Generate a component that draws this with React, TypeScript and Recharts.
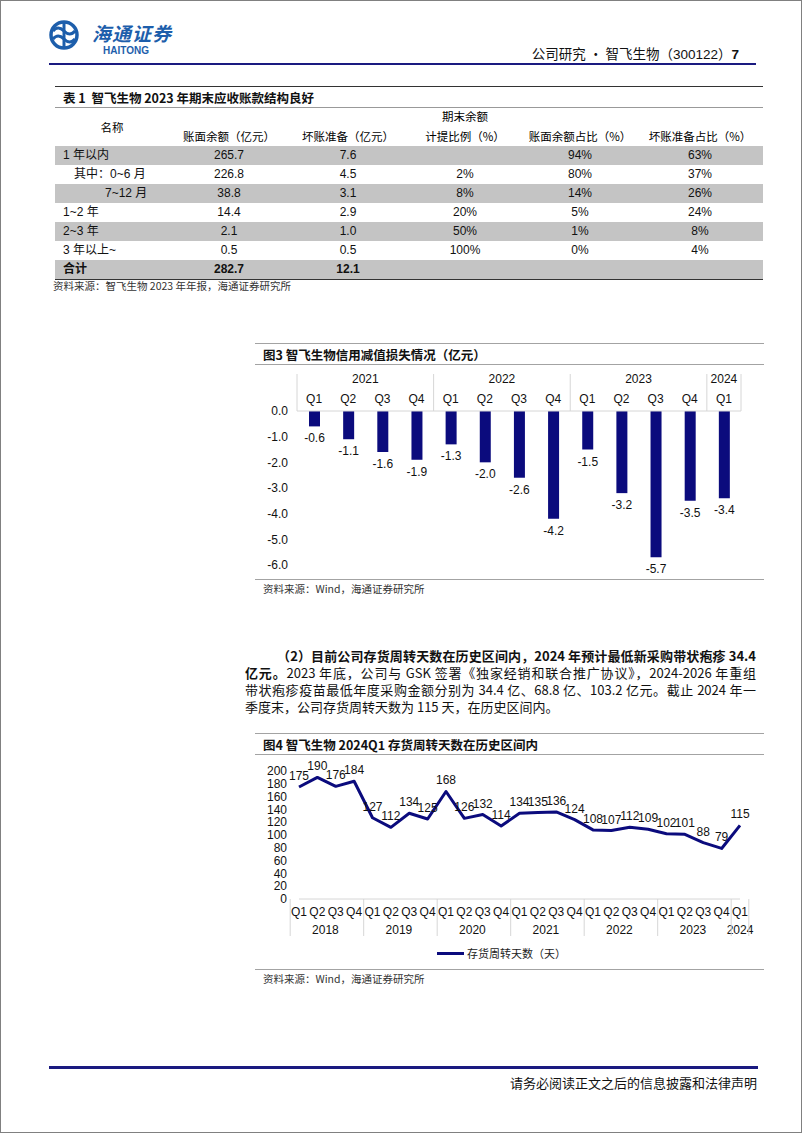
import React from 'react';
import {
  BarChart,
  Bar,
  LineChart,
  Line,
  XAxis,
  YAxis,
  LabelList,
  Legend,
} from 'recharts';

// ---- table 1 ----
const tableHeads = ['账面余额（亿元）', '坏账准备（亿元）', '计提比例（%）', '账面余额占比（%）', '坏账准备占比（%）'];
const rowNames = ['1 年以内', '其中：0~6 月', '7~12 月', '1~2 年', '2~3 年', '3 年以上~', '合计'];
const bookBalance = ['265.7', '226.8', '38.8', '14.4', '2.1', '0.5', '282.7'];
const badDebt = ['7.6', '4.5', '3.1', '2.9', '1.0', '0.5', '12.1'];
const provisionRate = ['', '2%', '8%', '20%', '50%', '100%', ''];
const balanceShare = ['94%', '80%', '14%', '5%', '1%', '0%', ''];
const badDebtShare = ['63%', '37%', '26%', '24%', '8%', '4%', ''];

// ---- chart 3: credit impairment (亿元) ----
const lossYears = ['2021', '2021', '2021', '2021', '2022', '2022', '2022', '2022', '2023', '2023', '2023', '2023', '2024'];
const lossQuarters = ['Q1', 'Q2', 'Q3', 'Q4', 'Q1', 'Q2', 'Q3', 'Q4', 'Q1', 'Q2', 'Q3', 'Q4', 'Q1'];
const creditLoss = [-0.6, -1.1, -1.6, -1.9, -1.3, -2.0, -2.6, -4.2, -1.5, -3.2, -5.7, -3.5, -3.4];
const lossTicks = [0, -1, -2, -3, -4, -5, -6];

// ---- chart 4: inventory turnover days ----
const invYears = [
  '2018', '2018', '2018', '2018', '2019', '2019', '2019', '2019', '2020', '2020', '2020', '2020',
  '2021', '2021', '2021', '2021', '2022', '2022', '2022', '2022', '2023', '2023', '2023', '2023', '2024',
];
const invQuarters = [
  'Q1', 'Q2', 'Q3', 'Q4', 'Q1', 'Q2', 'Q3', 'Q4', 'Q1', 'Q2', 'Q3', 'Q4',
  'Q1', 'Q2', 'Q3', 'Q4', 'Q1', 'Q2', 'Q3', 'Q4', 'Q1', 'Q2', 'Q3', 'Q4', 'Q1',
];
const turnoverDays = [175, 190, 176, 184, 127, 112, 134, 125, 168, 126, 132, 114, 134, 135, 136, 124, 108, 107, 112, 109, 102, 101, 88, 79, 115];
const dayTicks = [0, 20, 40, 60, 80, 100, 120, 140, 160, 180, 200];

const NAVY = '#0b0b7d';
const FONT = "'Liberation Sans', Arial, 'Noto Sans CJK SC', sans-serif";
const CJK = "'Noto Sans CJK SC', 'Liberation Sans', sans-serif";

const lossData = creditLoss.map((v, i) => ({ key: lossYears[i] + lossQuarters[i], v }));
const invData = turnoverDays.map((v, i) => ({ key: invYears[i] + invQuarters[i], v }));

// quarter + year group tick (works for top and bottom axes)
function GroupTick(props: any) {
  const { x, y, payload, years, quarters, band, side } = props;
  const i = payload.index;
  const yr = years[i];
  const first = i === 0 || years[i - 1] !== yr;
  const last = i === years.length - 1;
  let start = i;
  while (start > 0 && years[start - 1] === yr) start--;
  let end = i;
  while (end < years.length - 1 && years[end + 1] === yr) end++;
  const mid = x + ((start + end) / 2 - i) * band;
  const s = side === 'top' ? -1 : 1;
  const qY = side === 'top' ? y - 8 : y + 17;
  const yrY = side === 'top' ? y - 28 : y + 35;
  return (
    <g>
      <text x={x} y={qY} textAnchor="middle" fontSize={12} fill="#111" fontFamily={FONT}>
        {quarters[i]}
      </text>
      {i === start && (
        <text x={mid} y={yrY} textAnchor="middle" fontSize={12} fill="#111" fontFamily={FONT}>
          {yr}
        </text>
      )}
      {first && <line x1={x - band / 2} x2={x - band / 2} y1={y} y2={y + s * 37} stroke="#d6d6d6" />}
      {last && <line x1={x + band / 2} x2={x + band / 2} y1={y} y2={y + s * 37} stroke="#d6d6d6" />}
    </g>
  );
}

function LossLabel(props: any) {
  const { x, y, width, height, value } = props;
  const end = Math.max(y, y + height);
  return (
    <text x={x + width / 2} y={end + 16} textAnchor="middle" fontSize={12} fill="#111" fontFamily={FONT}>
      {Number(value).toFixed(1)}
    </text>
  );
}

function InvLegend() {
  return (
    <div style={{ display: 'flex', alignItems: 'center', justifyContent: 'center', height: 18 }}>
      <span style={{ display: 'inline-block', width: 27, height: 3, background: NAVY, marginRight: 3 }} />
      <span style={{ fontFamily: CJK, fontSize: 11, color: '#222' }}>存货周转天数（天）</span>
    </div>
  );
}

function Logo() {
  return (
    <svg width={40} height={32} style={{ position: 'absolute', left: 44, top: 18 }}>
      <circle cx={19} cy={16} r={13} fill="none" stroke="#1d5eab" strokeWidth={3.5} />
      <path d="M8 12 Q13 6 19 12 Q25 18 30 12" fill="none" stroke="#1d5eab" strokeWidth={3} />
      <path d="M8 20 Q13 14 19 20 Q25 26 30 20" fill="none" stroke="#1d5eab" strokeWidth={3} />
      <line x1={19} y1={4} x2={19} y2={28} stroke="#1d5eab" strokeWidth={3} />
    </svg>
  );
}

const abs = (l: number, t: number, extra: React.CSSProperties = {}): React.CSSProperties => ({
  position: 'absolute',
  left: l,
  top: t,
  ...extra,
});

const colCenters = [228, 347, 464, 579, 699];
const colWidth = 118;

function Table1() {
  const rowTop = 144.5;
  const rowH = 19.1;
  const cols = [bookBalance, badDebt, provisionRate, balanceShare, badDebtShare];
  const nameLeft = [62, 73, 104, 62, 62, 62, 62];
  return (
    <>
      <div style={abs(54, 85, { width: 708, height: 0, borderTop: '1.5px solid #333' })} />
      <div style={abs(62, 88, { fontFamily: CJK, fontWeight: 700, fontSize: 12.5, lineHeight: '17px', color: '#111' })}>
        表 1&nbsp;&nbsp;智飞生物 2023 年期末应收账款结构良好
      </div>
      <div style={abs(54, 106, { width: 708, height: 0, borderTop: '1px solid #999' })} />
      <div style={abs(91, 118, { width: 40, textAlign: 'center', fontFamily: CJK, fontSize: 11.5, lineHeight: '16px' })}>名称</div>
      <div style={abs(464 - colWidth / 2, 107, { width: colWidth, textAlign: 'center', fontFamily: CJK, fontSize: 11.5, lineHeight: '16px' })}>
        期末余额
      </div>
      {tableHeads.map((h, k) => (
        <div
          key={h}
          style={abs(colCenters[k] - colWidth / 2 - 4, 127, {
            width: colWidth + 8,
            textAlign: 'center',
            fontFamily: CJK,
            fontSize: 11.5,
            lineHeight: '16px',
          })}
        >
          {h}
        </div>
      ))}
      {rowNames.map((name, r) => {
        const top = rowTop + r * rowH;
        const bold = r === rowNames.length - 1;
        return (
          <React.Fragment key={name}>
            {r % 2 === 0 && <div style={abs(54, top, { width: 708, height: rowH, background: '#c4c4c4' })} />}
            <div
              style={abs(nameLeft[r], top, {
                fontFamily: FONT,
                fontSize: 12,
                lineHeight: rowH + 'px',
                fontWeight: bold ? 700 : 400,
                color: '#111',
              })}
            >
              {name}
            </div>
            {cols.map((c, k) => (
              <div
                key={k}
                style={abs(colCenters[k] - colWidth / 2, top, {
                  width: colWidth,
                  textAlign: 'center',
                  fontFamily: FONT,
                  fontSize: 12,
                  lineHeight: rowH + 'px',
                  fontWeight: bold ? 700 : 400,
                  color: '#111',
                })}
              >
                {c[r]}
              </div>
            ))}
          </React.Fragment>
        );
      })}
      <div style={abs(54, 278, { width: 708, height: 0, borderTop: '1.5px solid #333' })} />
      <div style={abs(52, 278, { fontFamily: CJK, fontSize: 10.5, lineHeight: '14px', color: '#333' })}>
        资料来源：智飞生物 2023 年年报，海通证券研究所
      </div>
    </>
  );
}

function ChartFrame({ top, title, bottom }: { top: number; title: string; bottom: number }) {
  return (
    <>
      <div style={abs(254, top, { width: 509, height: 0, borderTop: '1.5px solid #a3a3a3' })} />
      <div style={abs(262, top + 3, { fontFamily: CJK, fontWeight: 700, fontSize: 12.5, lineHeight: '17px', color: '#111' })}>
        {title}
      </div>
      <div style={abs(254, top + 21, { width: 509, height: 0, borderTop: '1px solid #a3a3a3' })} />
      <div style={abs(254, bottom, { width: 509, height: 0, borderTop: '1.5px solid #a3a3a3' })} />
      <div style={abs(262, bottom + 3, { fontFamily: CJK, fontSize: 10.5, lineHeight: '14px', color: '#333' })}>
        资料来源：Wind，海通证券研究所
      </div>
    </>
  );
}

const paraLine: React.CSSProperties = {
  position: 'absolute',
  left: 244,
  width: 511,
  fontFamily: CJK,
  fontSize: 13,
  lineHeight: '17px',
  color: '#111',
  textAlign: 'justify',
  textAlignLast: 'justify',
  whiteSpace: 'nowrap',
};

export default function App() {
  const lossBand = 444 / lossData.length;
  const invBand = 441 / invData.length;
  return (
    <div
      style={{
        position: 'absolute',
        left: 0,
        top: 0,
        width: 802,
        height: 1133,
        border: '1px solid #808080',
        boxSizing: 'border-box',
        background: '#fff',
        overflow: 'hidden',
      }}
    >
      {/* header */}
      <Logo />
      <div style={abs(91, 20, { fontFamily: CJK, fontStyle: 'italic', fontWeight: 700, fontSize: 19, color: '#1d5eab', letterSpacing: 1, lineHeight: '24px' })}>
        海通证券
      </div>
      <div style={abs(102, 44, { fontFamily: FONT, fontWeight: 700, fontSize: 10, color: '#1d5eab', lineHeight: '11px' })}>HAITONG</div>
      <div style={abs(500, 43, { width: 238, textAlign: 'right', fontFamily: CJK, fontSize: 13.5, lineHeight: '18px', color: '#111' })}>
        公司研究 · 智飞生物（<span style={{ fontFamily: FONT }}>300122</span>）<b style={{ fontFamily: FONT }}>7</b>
      </div>
      <div style={abs(48, 62, { width: 707, height: 2, background: '#1a1a80' })} />

      <Table1 />

      {/* chart 3 */}
      <ChartFrame top={342} title="图3  智飞生物信用减值损失情况（亿元）" bottom={578} />
      <div style={abs(254, 366)}>
        <BarChart width={510} height={210} data={lossData} margin={{ top: 6, right: 24, bottom: 12, left: 8 }}>
          <XAxis
            dataKey="key"
            orientation="top"
            height={38}
            interval={0}
            tickLine={false}
            tickSize={0}
            tickMargin={0}
            axisLine={{ stroke: '#d6d6d6' }}
            tick={(p: any) => <GroupTick {...p} years={lossYears} quarters={lossQuarters} band={lossBand} side="top" />}
          />
          <YAxis
            domain={[-6, 0]}
            ticks={lossTicks}
            interval={0}
            width={34}
            axisLine={false}
            tickLine={false}
            tickSize={0}
            tickMargin={9}
            tickFormatter={(v: number) => v.toFixed(1)}
            tick={{ fontSize: 12, fill: '#111', fontFamily: FONT }}
          />
          <Bar dataKey="v" fill={NAVY} barSize={11} isAnimationActive={false}>
            <LabelList dataKey="v" content={<LossLabel />} />
          </Bar>
        </BarChart>
      </div>

      {/* paragraph */}
      <div style={{ ...paraLine, top: 646, left: 276, width: 479, fontWeight: 700 }}>
        （2）目前公司存货周转天数在历史区间内，2024 年预计最低新采购带状疱疹 34.4
      </div>
      <div style={{ ...paraLine, top: 663 }}>
        <b>亿元。</b>2023 年底，公司与 GSK 签署《独家经销和联合推广协议》，2024-2026 年重组
      </div>
      <div style={{ ...paraLine, top: 680 }}>
        带状疱疹疫苗最低年度采购金额分别为 34.4 亿、68.8 亿、103.2 亿元。截止 2024 年一
      </div>
      <div style={{ ...paraLine, top: 697, textAlignLast: 'left' }}>季度末，公司存货周转天数为 115 天，在历史区间内。</div>

      {/* chart 4 */}
      <ChartFrame top={732} title="图4  智飞生物 2024Q1 存货周转天数在历史区间内" bottom={968} />
      <div style={abs(254, 757)}>
        <LineChart width={510} height={212} data={invData} margin={{ top: 13, right: 25, bottom: 16, left: 8 }}>
          <XAxis
            dataKey="key"
            height={37}
            interval={0}
            tickLine={false}
            tickSize={0}
            tickMargin={0}
            axisLine={{ stroke: '#d6d6d6' }}
            tick={(p: any) => <GroupTick {...p} years={invYears} quarters={invQuarters} band={invBand} side="bottom" />}
          />
          <YAxis
            domain={[0, 200]}
            ticks={dayTicks}
            interval={0}
            width={36}
            axisLine={false}
            tickLine={false}
            tickSize={0}
            tickMargin={12}
            tick={{ fontSize: 12, fill: '#111', fontFamily: FONT }}
          />
          <Legend verticalAlign="bottom" height={18} wrapperStyle={{ bottom: 8 }} content={<InvLegend />} />
          <Line
            dataKey="v"
            stroke={NAVY}
            strokeWidth={3}
            dot={false}
            strokeLinejoin="round"
            isAnimationActive={false}
          >
            <LabelList dataKey="v" position="top" offset={7} fontSize={12} fill="#111" fontFamily={FONT} />
          </Line>
        </LineChart>
      </div>

      {/* footer */}
      <div style={abs(48, 1065, { width: 709, height: 3, background: '#1a1a80' })} />
      <div style={abs(400, 1073, { width: 356, textAlign: 'right', fontFamily: CJK, fontSize: 13, lineHeight: '17px', color: '#111' })}>
        请务必阅读正文之后的信息披露和法律声明
      </div>
    </div>
  );
}
